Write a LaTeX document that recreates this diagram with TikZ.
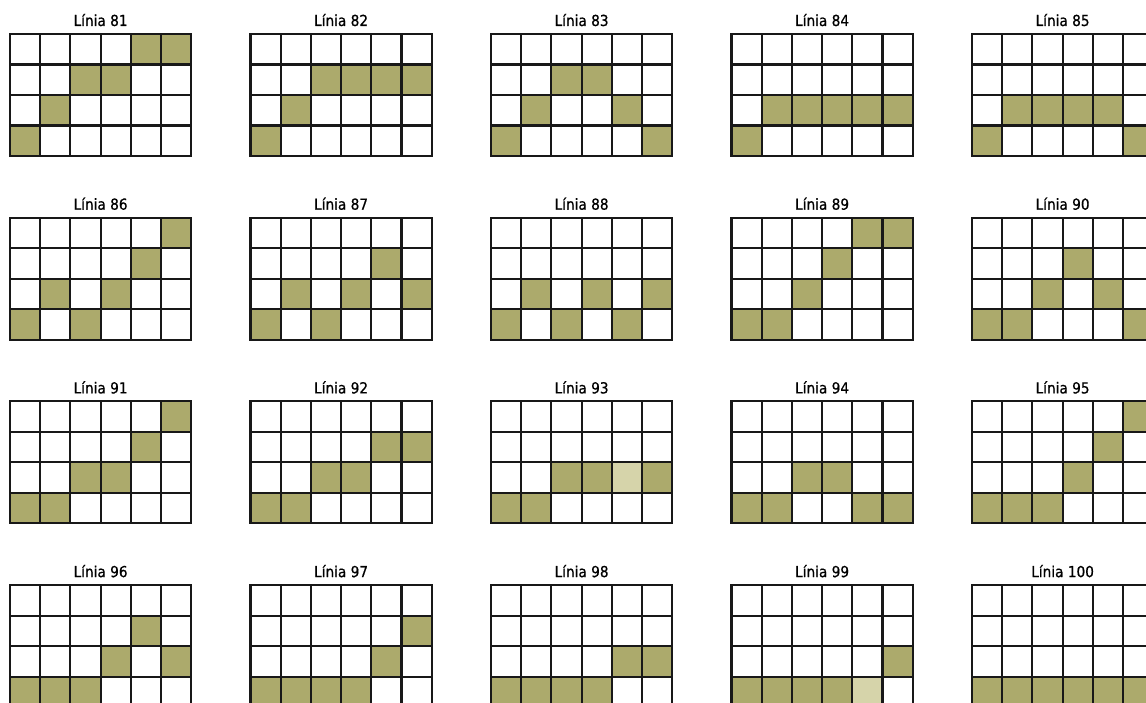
\documentclass[tikz,border=0pt]{standalone}
\usepackage{fontspec}
\setmainfont{DejaVu Sans Condensed}
\newfontfamily\labelfont[FakeBold=0.7]{DejaVu Sans Condensed}
\usepackage{xcolor}
\usetikzlibrary{calc}
\definecolor{pagebg}{RGB}{255,255,255}
\definecolor{olivecell}{RGB}{172,170,108}
\definecolor{olivespeck}{RGB}{214,212,170}
\definecolor{inkline}{RGB}{24,24,24}
\tikzset{
    cellpen/.style={draw=inkline, line width=1.6pt, line cap=rect},
    linelabel/.style={anchor=base, text=black, font=\labelfont\fontsize{11.4}{14}\selectfont, inner sep=0pt}
}

\begin{document}
\begin{tikzpicture}[x=0.75pt, y=-0.75pt]

% Background
\fill[pagebg] (0,0) rectangle (1146,703);
\clip (0,0) rectangle (1146,703);

% Speckled cells (Linia 93 and 99)
\fill[olivespeck] ({491+4*30.2},{401.4+2*30.5}) rectangle ++(30.2,30.5);
\fill[olivespeck] ({731.5+4*30.2},{585.1+3*30.5}) rectangle ++(30.2,30.5);

% Grids: number / column / row / shaded cells (col/row)
\foreach \num/\gx/\gy/\cells in {
    81/0/0/{5/0,6/0,3/1,4/1,2/2,1/3},
    82/1/0/{3/1,4/1,5/1,6/1,2/2,1/3},
    83/2/0/{3/1,4/1,2/2,5/2,1/3,6/3},
    84/3/0/{2/2,3/2,4/2,5/2,6/2,1/3},
    85/4/0/{2/2,3/2,4/2,5/2,1/3,6/3},
    86/0/1/{6/0,5/1,2/2,4/2,1/3,3/3},
    87/1/1/{5/1,2/2,4/2,6/2,1/3,3/3},
    88/2/1/{2/2,4/2,6/2,1/3,3/3,5/3},
    89/3/1/{5/0,6/0,4/1,3/2,1/3,2/3},
    90/4/1/{4/1,3/2,5/2,1/3,2/3,6/3},
    91/0/2/{6/0,5/1,3/2,4/2,1/3,2/3},
    92/1/2/{5/1,6/1,3/2,4/2,1/3,2/3},
    93/2/2/{3/2,4/2,6/2,1/3,2/3},
    94/3/2/{3/2,4/2,1/3,2/3,5/3,6/3},
    95/4/2/{6/0,5/1,4/2,1/3,2/3,3/3},
    96/0/3/{5/1,4/2,6/2,1/3,2/3,3/3},
    97/1/3/{6/1,5/2,1/3,2/3,3/3,4/3},
    98/2/3/{5/2,6/2,1/3,2/3,3/3,4/3},
    99/3/3/{6/2,1/3,2/3,3/3,4/3},
    100/4/3/{1/3,2/3,3/3,4/3,5/3,6/3}}{
  \begin{scope}[shift={({10+240.5*\gx},{34+183.7*\gy})}]
    \foreach \c/\r in \cells {
      \fill[olivecell] ({(\c-1)*30.2},{\r*30.5}) rectangle ++(30.2,30.5);
    }
    \foreach \i in {0,...,6} {
      \draw[cellpen] ({\i*30.2},0) -- ({\i*30.2},122);
    }
    \foreach \j in {0,...,4} {
      \draw[cellpen] (0,{\j*30.5}) -- (181.2,{\j*30.5});
    }
    \node[linelabel] (label\num) at (90.6,-8) {Línia \num};
  \end{scope}
}

\end{tikzpicture}
\end{document}
